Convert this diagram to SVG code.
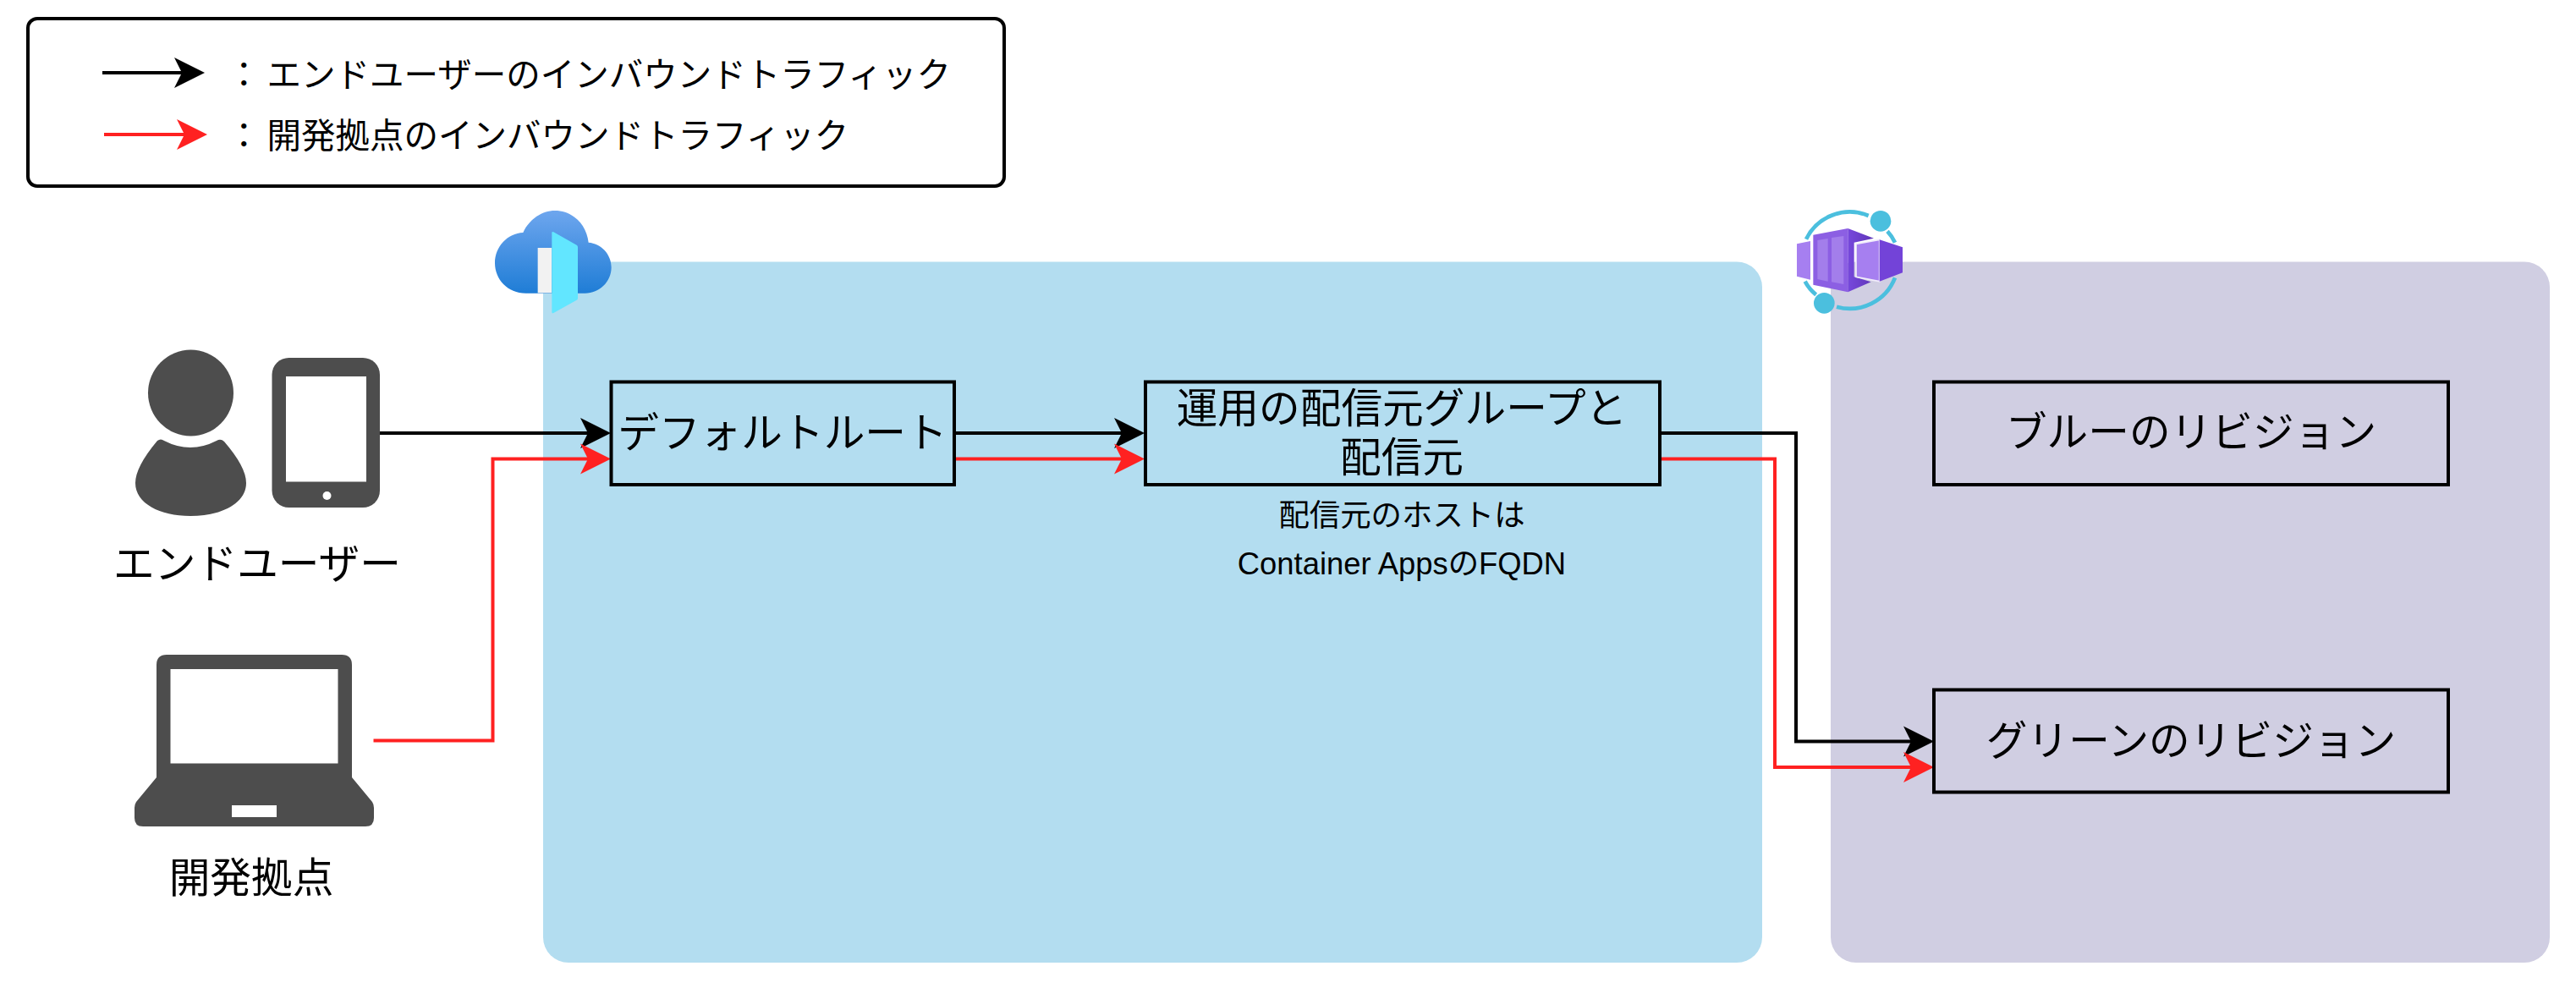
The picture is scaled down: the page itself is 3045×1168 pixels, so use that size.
<svg xmlns="http://www.w3.org/2000/svg" width="3045" height="1168" viewBox="0 0 3045 1168">
<style>
text{font-family:"Liberation Sans","Noto Sans CJK JP",sans-serif;fill:#000}
.l{font-size:48.7px;text-anchor:middle}
.m{font-size:40.5px}
.s{font-size:36.4px;text-anchor:middle}
.box{fill:none;stroke:#000;stroke-width:4}
.k{fill:none;stroke:#000;stroke-width:4}
.r{fill:none;stroke:#ff2121;stroke-width:4}
.ic{fill:#4d4d4d}
.w{fill:#fff}
</style>
<defs>
<linearGradient id="cg" x1="0" y1="0" x2="0" y2="1"><stop offset="0" stop-color="#6ea6ee"/><stop offset="1" stop-color="#1f7dd6"/></linearGradient>
<linearGradient id="pg" x1="0" y1="0" x2="1" y2="0"><stop offset="0" stop-color="#7748dc"/><stop offset="1" stop-color="#5f35b8"/></linearGradient>
<marker id="ak" markerUnits="userSpaceOnUse" markerWidth="40" markerHeight="40" refX="28" refY="18" orient="auto" overflow="visible"><path d="M0,0L36,18L0,36L9,18Z" fill="#000"/></marker>
<marker id="ar" markerUnits="userSpaceOnUse" markerWidth="40" markerHeight="40" refX="28" refY="18" orient="auto" overflow="visible"><path d="M0,0L36,18L0,36L9,18Z" fill="#ff2121"/></marker>
</defs>
<rect width="3045" height="1168" fill="#fff"/>
<g id="legend">
<rect x="33" y="22" width="1154" height="198" rx="11" fill="#fff" stroke="#000" stroke-width="4"/>
<path class="k" d="M121,86H234" marker-end="url(#ak)"/>
<path class="r" d="M123,159H237" marker-end="url(#ar)"/>
<text class="m" x="268" y="103">：<tspan dx="7">エンドユーザーのインバウンドトラフィック</tspan></text>
<text class="m" x="268" y="175">：<tspan dx="7">開発拠点のインバウンドトラフィック</tspan></text>
</g>
<g id="frontdoor-panel"><rect x="642" y="309.5" width="1441" height="828.5" rx="30" fill="#b3ddf0"/></g>
<g id="containerapps-panel"><rect x="2164" y="309.5" width="850" height="828.5" rx="30" fill="#d0cee2"/></g>
<g id="frontdoor-icon" transform="translate(560,230) scale(.33333)">
<path d="M185,350C120,350 75,300 75,243C75,185 120,137 175,135C195,90 240,57 288,57C350,57 400,105 407,170C450,173 488,210 488,258C488,310 445,350 395,350Z" fill="url(#cg)"/>
<rect x="227" y="189" width="50" height="160" fill="#f2f2f2"/>
<path d="M277,136Q277,130 283,133L365,179Q369,181 369,186V368Q369,372 365,374L283,420Q277,423 277,417Z" fill="#62e6ff"/>
</g>
<g id="containerapps-icon" transform="translate(2100,230) scale(.33333)">
<g fill="none" stroke="#4bbfde" stroke-width="14">
<path d="M105,158A172,172 0 0 1 326,75"/>
<path d="M393,130Q410,148 420,170"/>
<path d="M213,398A172,172 0 0 0 420,295"/>
<path d="M101,308Q115,335 140,355"/>
</g>
<circle cx="369" cy="94" r="37" fill="#4bbfde"/>
<circle cx="169" cy="385" r="37" fill="#4bbfde"/>
<path d="M72,175L120,165V302L72,290Z" fill="#a67ff0"/>
<path d="M130,143L253,120V346L130,320Z" fill="#8c5fe3"/>
<path d="M253,120L345,155L275,170V292L335,310L253,346Z" fill="url(#pg)"/>
<path d="M145,162L182,156V308L145,300Z" fill="#a37eeb"/>
<path d="M195,153L238,147V318L195,310Z" fill="#a37eeb"/>
<path d="M282,175L365,160V308L282,292Z" fill="#a67ff0" stroke="#f1ecfb" stroke-width="5"/>
<path d="M365,160L447,187V277L365,308Z" fill="#7343d8"/>
</g>
<g id="end-user">
<ellipse class="ic" cx="225.5" cy="464.5" rx="50.5" ry="51"/>
<path class="ic" d="M186,521Q190,518 194,521Q225,537 256,521Q261,518 265,522Q291,552 291,571C291,595 262,610 225,610C189,610 160,595 160,571Q160,552 186,521Z"/>
<rect class="ic" x="321.5" y="423" width="127.5" height="177" rx="20"/>
<rect class="w" x="338" y="445" width="95" height="124.500"/>
<circle class="w" cx="386.500" cy="586" r="5"/>
<text class="l" x="304" y="684">エンドユーザー</text>
</g>
<g id="dev-site">
<path class="ic" d="M185,919V786Q185,774 197,774H404Q416,774 416,786V919L440,948Q442,951 442,955V967Q442,977 432,977H169Q159,977 159,967V955Q159,951 161,948Z"/>
<rect class="w" x="201.500" y="791" width="198" height="111.500"/>
<rect class="w" x="274" y="952" width="53" height="14"/>
<text class="l" x="297" y="1055">開発拠点</text>
</g>
<g id="connectors">
<path class="k" d="M449,512H714" marker-end="url(#ak)"/>
<path class="r" d="M441.500,875.500H582.500V542.500H714" marker-end="url(#ar)"/>
<path class="k" d="M1128,512H1345" marker-end="url(#ak)"/>
<path class="r" d="M1128,542.500H1345" marker-end="url(#ar)"/>
<path class="k" d="M1962,512H2123V876.500H2278" marker-end="url(#ak)"/>
<path class="r" d="M1962,542.500H2098V907H2278" marker-end="url(#ar)"/>
</g>
<g id="default-route"><rect class="box" x="722.5" y="451.5" width="405.5" height="121.500"/><text class="l" x="925" y="529">デフォルトルート</text></g>
<g id="origin-group"><rect class="box" x="1354" y="451.5" width="608" height="121.500"/>
<text class="l" x="1657" y="500">運用の配信元グループと</text><text class="l" x="1657" y="558">配信元</text></g>
<g id="origin-note"><text class="s" x="1657" y="622">配信元のホストは</text><text class="s" x="1657" y="679">Container AppsのFQDN</text></g>
<g id="blue-revision"><rect class="box" x="2286" y="451.5" width="608" height="121.500"/><text class="l" x="2590" y="528">ブルーのリビジョン</text></g>
<g id="green-revision"><rect class="box" x="2286" y="815.5" width="608" height="121"/><text class="l" x="2590" y="893">グリーンのリビジョン</text></g>
</svg>
